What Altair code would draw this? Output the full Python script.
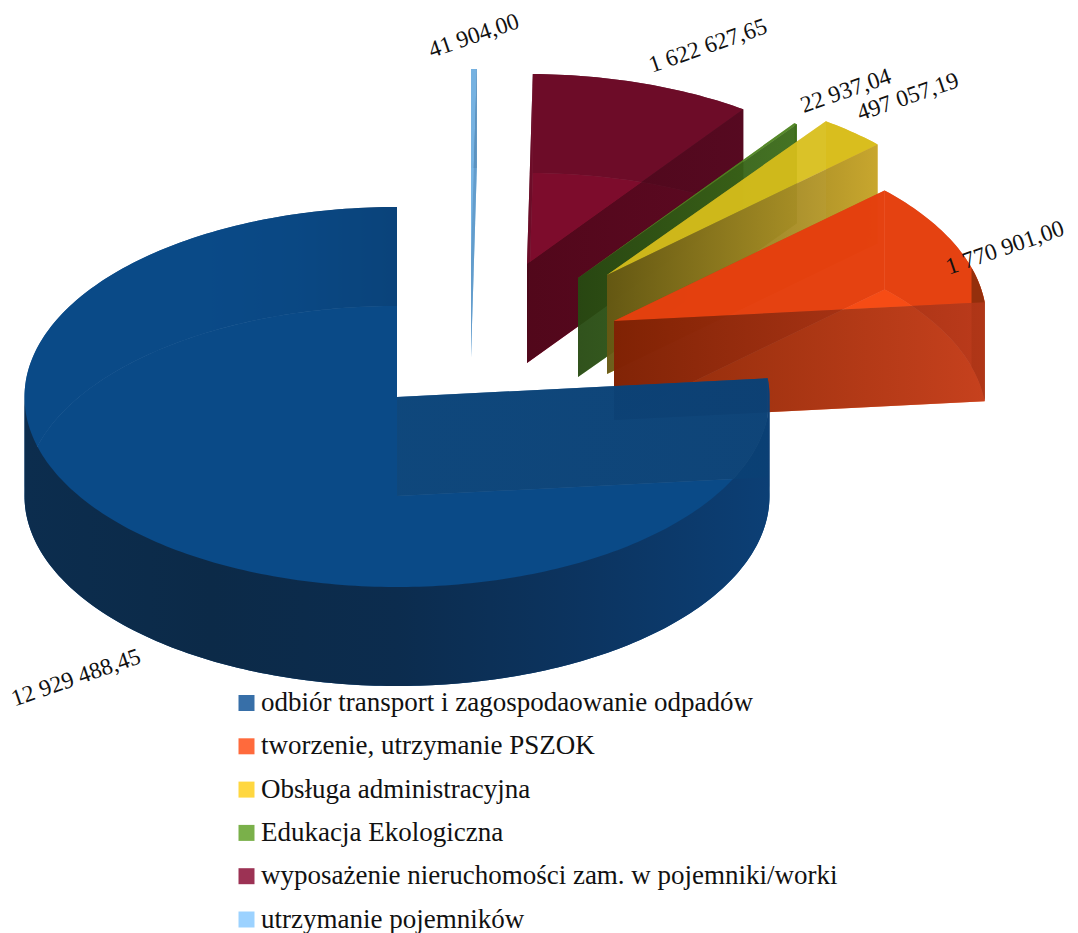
import math
import altair as alt
import pandas as pd

# --- data ---
LEGEND = ["odbiór transport i zagospodaowanie odpadów", "tworzenie, utrzymanie PSZOK",
          "Obsługa administracyjna", "Edukacja Ekologiczna",
          "wyposażenie nieruchomości zam. w pojemniki/worki", "utrzymanie pojemników"]
VALUES = [12929488.45, 1770901.00, 497057.19, 22937.04, 1622627.65, 41904.00]
VALUE_TEXT = ["12 929 488,45", "1 770 901,00", "497 057,19", "22 937,04", "1 622 627,65", "41 904,00"]
LEGEND_COLORS = ["#376fa8", "#ff6a3c", "#ffd740", "#7ab04a", "#9c3254", "#9cd2ff"]

# --- layout and style ---
RX, RY, DEPTH = 372.5, 190.0, 99.0
APEX_X = [397, 614, 607, 578, 527, 471]
APEX_Y = [397, 321, 275, 278, 264, 259]
LABEL_X = [76, 1005, 908, 846, 708, 474]
LABEL_Y = [678, 248, 97, 91, 46, 36]
TOP = ["#0a4a87", "#f2420b", "#d6be18", "#4f8420", "#720a28", "#78b4e4"]
TOP_ALPHA = [0.8, 0.7, 0.85, 0.9, 0.8, 0.95]
BOTTOM = ["#0a4a87", "#ff5d21", "#dcc020", "#4f8420", "#a80a32", "#78b4e4"]
BAND_BACK = ["#0c2a48", "#c43a14", "#e8b838", "#4f8420", "#500a1e", "#4a7ca8"]
WALL0_ALPHA = [1.0, 0.95, 0.6, 0.6, 0.95, 0.6]
BAND_BACK_MAIN = ["#0a4a87", "#0a4a87", "#0a4a87", "#0a3f72", "#0c2a48"]
BAND_FRONT = ["#0c2d4e", "#0c2a48", "#0c2c4e", "#0c3460", "#0c3f75"]
WALL_A = ["#0a4378", "#701c00", "#5e5210", "#234510", "#4a0618", "#5c96c6"]
WALL_B = ["#0a4074", "#b8381a", "#c4a42c", "#3a6a18", "#560820", "#5c96c6"]
WALL_ALPHA = [0.9, 0.8, 0.9, 0.88, 0.92, 0.8]
WEDGE_START = 73.7
WEDGE_COLOR = "#8f2e0d"

X_SCALE = alt.Scale(domain=[8, 1070], nice=False, zero=False)
Y_SCALE = alt.Scale(domain=[933, 8], nice=False, zero=False)


def grad(*colors):
    n = len(colors) - 1
    return alt.LinearGradient(gradient="linear", x1=0, x2=1, y1=0, y2=0,
                              stops=[alt.GradientStop(color=c, offset=i / n) for i, c in enumerate(colors)])


def face(points, fill, opacity):
    df = pd.DataFrame(points, columns=["x", "y"])
    df["i"] = range(len(df))
    return alt.Chart(df).mark_line(interpolate="linear-closed", fill=fill, fillOpacity=opacity,
                                   stroke="transparent", strokeWidth=0).encode(
        x=alt.X("x:Q", scale=X_SCALE, axis=None),
        y=alt.Y("y:Q", scale=Y_SCALE, axis=None),
        order="i:Q")


def pt(k, deg, z=0.0):
    t = math.radians(deg)
    return (APEX_X[k] + RX * math.sin(t), APEX_Y[k] - RY * math.cos(t) + z)


def arc(k, a0, a1, z=0.0):
    n = max(2, int(abs(a1 - a0)) + 2)
    return [pt(k, a0 + (a1 - a0) * j / (n - 1), z) for j in range(n)]


def band(k, a0, a1):
    return arc(k, a0, a1) + arc(k, a1, a0, DEPTH)


def wall(k, deg):
    apex = (APEX_X[k], APEX_Y[k])
    return [apex, pt(k, deg), pt(k, deg, DEPTH), (apex[0], apex[1] + DEPTH)]


total = sum(VALUES)
spans = {}
start = 0.0
for k in [5, 4, 3, 2, 1, 0]:
    end = start + VALUES[k] / total * 360
    spans[k] = (start, end)
    start = end

layers = []
for k in [5, 4, 3, 2, 1]:
    a0, a1 = spans[k]
    apex = (APEX_X[k], APEX_Y[k])
    layers.append(face([(apex[0], apex[1] + DEPTH)] + arc(k, a0, a1, DEPTH), BOTTOM[k], 0.95))
    layers.append(face(band(k, a0, a1), BAND_BACK[k], 0.95))
    layers.append(face(wall(k, a0), BAND_BACK[k], WALL0_ALPHA[k]))
    layers.append(face([apex] + arc(k, a0, a1), TOP[k], TOP_ALPHA[k]))
    if k == 1:
        layers.append(face(band(k, WEDGE_START, a1), WEDGE_COLOR, 0.95))
    layers.append(face(wall(k, a1), grad(WALL_A[k], WALL_B[k]), WALL_ALPHA[k]))

# main slice
a0, a1 = spans[0]
apex = (APEX_X[0], APEX_Y[0])
layers.append(face([(apex[0], apex[1] + DEPTH)] + arc(0, a0, a1, DEPTH), BOTTOM[0], 1.0))
layers.append(face(band(0, 270, a1), grad(*BAND_BACK_MAIN), 1.0))
layers.append(face([apex] + arc(0, a0, a1), TOP[0], TOP_ALPHA[0]))
layers.append(face(band(0, a0, 90), BAND_FRONT[-1], 0.95))
layers.append(face(band(0, 90, 270), grad(*BAND_FRONT), 1.0))
layers.append(face(wall(0, a0), grad(WALL_A[0], WALL_B[0]), WALL_ALPHA[0]))

labels = pd.DataFrame({"x": LABEL_X, "y": LABEL_Y, "t": VALUE_TEXT})
text = alt.Chart(labels).mark_text(font="Liberation Serif", fontSize=23.5, angle=341, color="#111111").encode(
    x=alt.X("x:Q", scale=X_SCALE, axis=None),
    y=alt.Y("y:Q", scale=Y_SCALE, axis=None),
    text="t:N")

legend_df = pd.DataFrame({"name": LEGEND, "x": [500] * 6, "y": [500] * 6})
legend_layer = alt.Chart(legend_df).mark_square(opacity=0).encode(
    x=alt.X("x:Q", scale=X_SCALE, axis=None),
    y=alt.Y("y:Q", scale=Y_SCALE, axis=None),
    color=alt.Color("name:N", scale=alt.Scale(domain=LEGEND, range=LEGEND_COLORS),
                    legend=alt.Legend(orient="none", legendX=225, legendY=681.5, title=None,
                                      labelFont="Liberation Serif", labelFontSize=27, labelColor="#111111",
                                      labelLimit=700, labelOffset=1, symbolType="square", symbolSize=256,
                                      symbolOpacity=1, symbolStrokeWidth=0, rowPadding=15.3,
                                      padding=0, values=LEGEND)))

chart = alt.layer(*layers, text, legend_layer).properties(
    width=1062, height=925, padding=0, autosize=alt.AutoSizeParams(type="none"), background="white"
).configure_view(stroke=None)

chart.save("out.html", embed_options={"renderer": "svg", "actions": False})
